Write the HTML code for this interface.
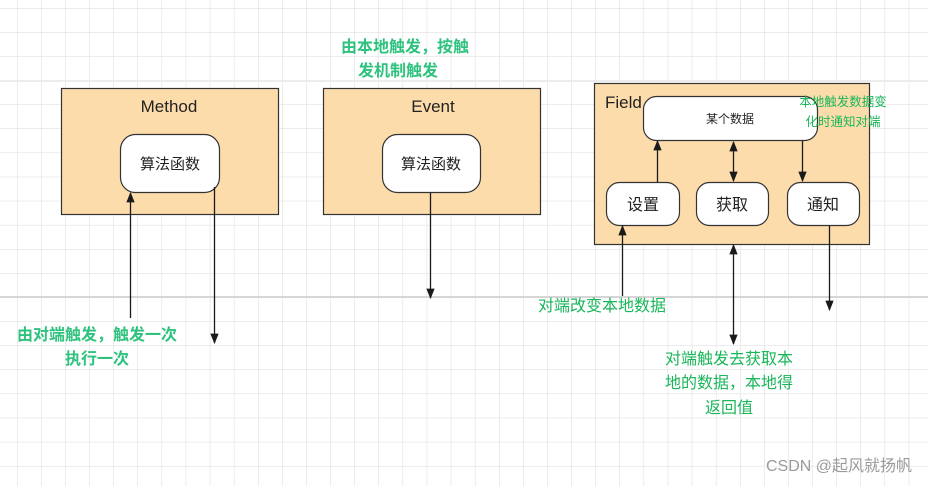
<!DOCTYPE html>
<html><head><meta charset="utf-8"><style>
html,body{margin:0;padding:0;background:#fff;}
svg{display:block;}
text{font-family:"Liberation Sans","Noto Sans CJK SC",sans-serif;}
</style></head><body>
<svg width="928" height="486" viewBox="0 0 928 486" xmlns="http://www.w3.org/2000/svg">
<defs>
<pattern id="g" x="17" y="8" width="24.1" height="24.1" patternUnits="userSpaceOnUse">
<path d="M0 0H24.1M0 0V24.1" stroke="#dadada" stroke-width="1" fill="none"/>
</pattern>
<marker id="a" viewBox="0 0 10 10" refX="9" refY="5" markerWidth="8" markerHeight="8" orient="auto-start-reverse">
<path d="M0 1L10 5L0 9z" fill="#1a1a1a"/>
</marker>
</defs>
<rect width="928" height="486" fill="url(#g)"/>
<line x1="0" y1="81" x2="928" y2="81" stroke="#ececec" stroke-width="2"/>
<line x1="0" y1="297" x2="928" y2="297" stroke="#d6d6d6" stroke-width="2"/>

<g stroke="#333" stroke-width="1.2">
<rect x="61.5" y="88.5" width="217" height="126" fill="#fddcab"/>
<rect x="323.5" y="88.5" width="217" height="126" fill="#fddcab"/>
<rect x="594.5" y="83.5" width="275" height="161" fill="#fddcab"/>
<rect x="120.5" y="134.5" width="99" height="58" rx="15" fill="#fff"/>
<rect x="382.5" y="134.5" width="98" height="58" rx="15" fill="#fff"/>
<rect x="643.5" y="96.5" width="174" height="44" rx="13" fill="#fff"/>
<rect x="606.5" y="182.5" width="73" height="43" rx="13" fill="#fff"/>
<rect x="696.5" y="182.5" width="72" height="43" rx="13" fill="#fff"/>
<rect x="787.5" y="182.5" width="72" height="43" rx="13" fill="#fff"/>
</g>

<g stroke="#1a1a1a" stroke-width="1.3" fill="none">
<line x1="130.5" y1="318" x2="130.5" y2="193" marker-end="url(#a)"/>
<line x1="214.5" y1="187" x2="214.5" y2="343" marker-end="url(#a)"/>
<line x1="430.5" y1="193" x2="430.5" y2="298" marker-end="url(#a)"/>
<line x1="622.5" y1="296" x2="622.5" y2="226" marker-end="url(#a)"/>
<line x1="657.5" y1="182" x2="657.5" y2="141" marker-end="url(#a)"/>
<line x1="733.5" y1="142" x2="733.5" y2="181" marker-start="url(#a)" marker-end="url(#a)"/>
<line x1="802.5" y1="141" x2="802.5" y2="181" marker-end="url(#a)"/>
<line x1="829.5" y1="226" x2="829.5" y2="310" marker-end="url(#a)"/>
<line x1="733.5" y1="245" x2="733.5" y2="344" marker-start="url(#a)" marker-end="url(#a)"/>
</g>

<g fill="#222" font-size="17">
<text x="169" y="112" text-anchor="middle">Method</text>
<text x="433" y="112" text-anchor="middle">Event</text>
<text x="605" y="108">Field</text>
<text x="170" y="169" text-anchor="middle" font-size="15">算法函数</text>
<text x="431" y="169" text-anchor="middle" font-size="15">算法函数</text>
<text x="730" y="123" text-anchor="middle" font-size="12">某个数据</text>
<text x="643" y="210" text-anchor="middle" font-size="16">设置</text>
<text x="732" y="210" text-anchor="middle" font-size="16">获取</text>
<text x="823" y="210" text-anchor="middle" font-size="16">通知</text>
</g>

<g fill="#2ec27e" font-size="16" text-anchor="middle">
<text x="405" y="52" font-weight="bold">由本地触发，按触</text>
<text x="398" y="76" font-weight="bold">发机制触发</text>
<text x="97" y="340" font-weight="bold">由对端触发，触发一次</text>
<text x="97" y="364" font-weight="bold">执行一次</text>
</g>
<g fill="#1ab65a" text-anchor="middle">
<text x="602" y="311" font-size="16">对端改变本地数据</text>
<text x="729" y="364" font-size="16">对端触发去获取本</text>
<text x="729" y="388" font-size="16">地的数据，本地得</text>
<text x="729" y="413" font-size="16">返回值</text>
<text x="843" y="106" font-size="12.5">本地触发数据变</text>
<text x="843" y="126" font-size="12.5">化时通知对端</text>
</g>
<text x="912" y="471" text-anchor="end" fill="#9a9a9a" font-size="16">CSDN @起风就扬帆</text>
</svg>
</body></html>
